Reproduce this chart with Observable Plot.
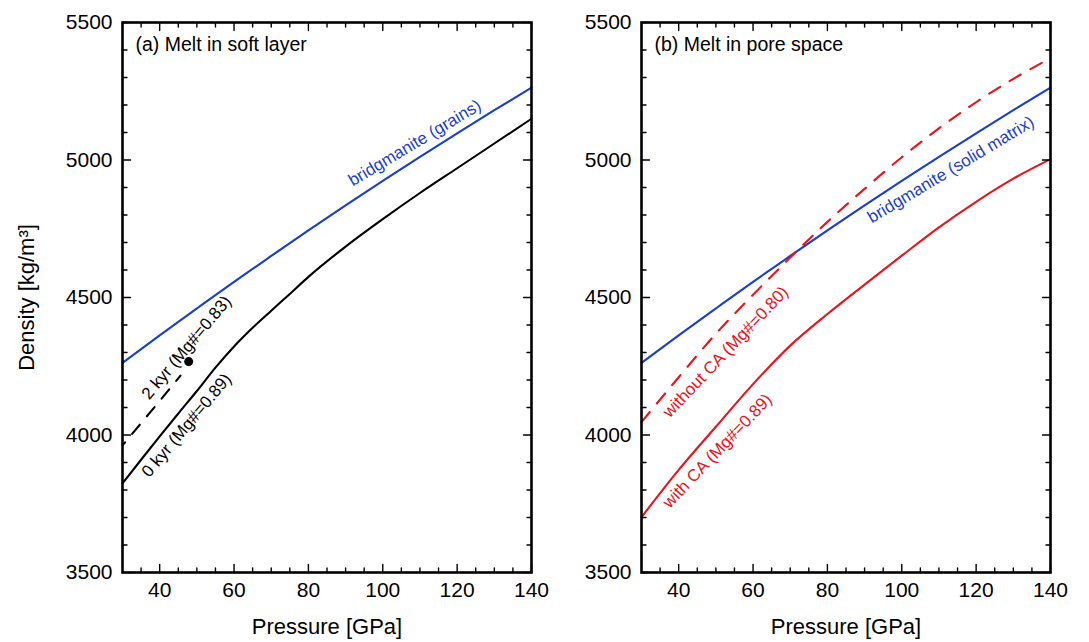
<!DOCTYPE html>
<html><head><meta charset="utf-8">
<script src="https://cdn.jsdelivr.net/npm/d3@7"></script>
<script src="https://cdn.jsdelivr.net/npm/@observablehq/plot@0.6"></script>
<style>
body{margin:0;background:#fff;}
#wrap{display:flex;width:1089px;height:642px;}
#wrap svg{font-family:"Liberation Sans",Arial,Helvetica,sans-serif;overflow:visible;}
</style></head><body><div id="wrap"></div>
<script>
// ---- data ----
const pressure = [30,40,50,60,70,80,90,100,110,120,130,140];
const bridgmanite = [4262,4362,4460,4557,4651,4744,4835,4924,5011,5097,5181,5263];
const pressure0kyr = [30,35,40,45,50,55,60,65,70,75,80,90,100,110,120,130,140];
const melt0kyr = [3824,3910,3995,4078,4160,4245,4322,4390,4452,4513,4575,4685,4785,4880,4970,5060,5150];
const pressure2kyr = [30,35,40,45.6];
const melt2kyr = [3962,4043,4124,4216];
const dotPressure = [47.8];
const dotDensity = [4267];
const meltWithoutCA = [4047,4210,4368,4510,4645,4775,4895,5010,5115,5210,5295,5370];
const meltWithCA = [3701,3873,4030,4185,4325,4440,4547,4652,4755,4848,4932,5003];

const xMajor = [40,60,80,100,120,140];
const xMinor = d3.range(35,140,5).filter(v => v % 20 !== 0);
const yMajor = [3500,4000,4500,5000,5500];
const yMinor = d3.range(3600,5500,100).filter(v => v % 500 !== 0);

const leftLabels = ["bridgmanite (grains)","2 kyr (Mg#=0.83)","0 kyr (Mg#=0.89)"];
const leftLabelP = [108.6,47.2,47.2];
const leftLabelRho = [5062,4318,4035];
const leftLabelAngle = [-31,-50,-50];
const leftLabelColor = ["blue","black","black"];
const rightLabels = ["bridgmanite (solid matrix)","without CA (Mg#=0.80)","with CA (Mg#=0.89)"];
const rightLabelP = [113.2,52.6,50.4];
const rightLabelRho = [4965,4302,3942];
const rightLabelAngle = [-31,-46.5,-46.5];
const rightLabelColor = ["blue","red","red"];

const BLUE = "#1a3fc8", RED = "#e8141c";
const colorOf = {blue: BLUE, red: RED, black: "#000"};

const tickShape = {draw(ctx, l){ ctx.moveTo(0,0); ctx.lineTo(0,-l); }};
function ticks() {
  const o = {anchor:"start", shape:tickShape, stroke:"#000", strokeWidth:1.4};
  return [
    Plot.vector(xMajor, {...o, x:d=>d, frameAnchor:"bottom", rotate:0, length:8}),
    Plot.vector(xMinor, {...o, x:d=>d, frameAnchor:"bottom", rotate:0, length:4.5}),
    Plot.vector(xMajor, {...o, x:d=>d, frameAnchor:"top", rotate:180, length:8}),
    Plot.vector(xMinor, {...o, x:d=>d, frameAnchor:"top", rotate:180, length:4.5}),
    Plot.vector(yMajor, {...o, y:d=>d, frameAnchor:"left", rotate:90, length:8}),
    Plot.vector(yMinor, {...o, y:d=>d, frameAnchor:"left", rotate:90, length:4.5}),
    Plot.vector(yMajor, {...o, y:d=>d, frameAnchor:"right", rotate:-90, length:8}),
    Plot.vector(yMinor, {...o, y:d=>d, frameAnchor:"right", rotate:-90, length:4.5})
  ];
}
function series(ys, xs = pressure) { return xs.map((p,i) => ({p, rho: ys[i]})); }
function labelsData(t, p, r, a, c) { return t.map((s,i) => ({s, p:p[i], r:r[i], a:a[i], c:colorOf[c[i]]})); }

function panel({width, marginLeft, marginRight, title, yLabel, marks, labels}) {
  return Plot.plot({
    width, height: 642, marginTop: 22, marginBottom: 70, marginLeft, marginRight,
    x: {domain: [30,140]},
    y: {domain: [3500,5500]},
    marks: [
      Plot.axisX({ticks: xMajor, tickSize: 0, tickPadding: 10, fontSize: 21, tickFormat: "d", label: null}),
      Plot.axisX({ticks: [], tickSize: 0, fontSize: 22, label: "Pressure [GPa]", labelAnchor: "center", labelArrow: "none", labelOffset: 61}),
      Plot.axisY({ticks: yMajor, tickSize: 0, tickPadding: 10, fontSize: 21, tickFormat: "d", label: null}),
      ...(yLabel ? [Plot.axisY({ticks: [], tickSize: 0, fontSize: 22, label: yLabel, labelAnchor: "center", labelArrow: "none", labelOffset: 104})] : []),
      ...marks,
      Plot.text(labels, {x:"p", y:"r", text:"s", rotate:"a", fill:"c", fontSize:17}),
      Plot.text([title], {frameAnchor:"top-left", dx:13, dy:15, lineAnchor:"top", textAnchor:"start", fontSize:19.5, fill:"#000"}),
      ...ticks(),
      Plot.frame({stroke:"#000", strokeWidth:2.6})
    ]
  });
}

const left = panel({
  width: 560, marginLeft: 122, marginRight: 29,
  title: "(a) Melt in soft layer",
  yLabel: "Density [kg/m³]",
  marks: [
    Plot.line(series(bridgmanite), {x:"p", y:"rho", stroke:BLUE, strokeWidth:2.1, curve:"monotone-x"}),
    Plot.line(series(melt0kyr, pressure0kyr), {x:"p", y:"rho", stroke:"#000", strokeWidth:2.1, curve:"monotone-x"}),
    Plot.line(series(melt2kyr, pressure2kyr), {x:"p", y:"rho", stroke:"#000", strokeWidth:2.1, strokeDasharray:"12,11", strokeDashoffset:8}),
    Plot.dot(series(dotDensity, dotPressure), {x:"p", y:"rho", r:4.5, fill:"#000"})
  ],
  labels: labelsData(leftLabels, leftLabelP, leftLabelRho, leftLabelAngle, leftLabelColor)
});
const right = panel({
  width: 529, marginLeft: 81, marginRight: 39,
  title: "(b) Melt in pore space",
  yLabel: null,
  marks: [
    Plot.line(series(bridgmanite), {x:"p", y:"rho", stroke:BLUE, strokeWidth:2.1, curve:"monotone-x"}),
    Plot.line(series(meltWithoutCA), {x:"p", y:"rho", stroke:RED, strokeWidth:2.1, curve:"monotone-x", strokeDasharray:"13,11"}),
    Plot.line(series(meltWithCA), {x:"p", y:"rho", stroke:RED, strokeWidth:2.1, curve:"monotone-x"})
  ],
  labels: labelsData(rightLabels, rightLabelP, rightLabelRho, rightLabelAngle, rightLabelColor)
});
document.getElementById("wrap").append(left, right);
</script></body></html>
